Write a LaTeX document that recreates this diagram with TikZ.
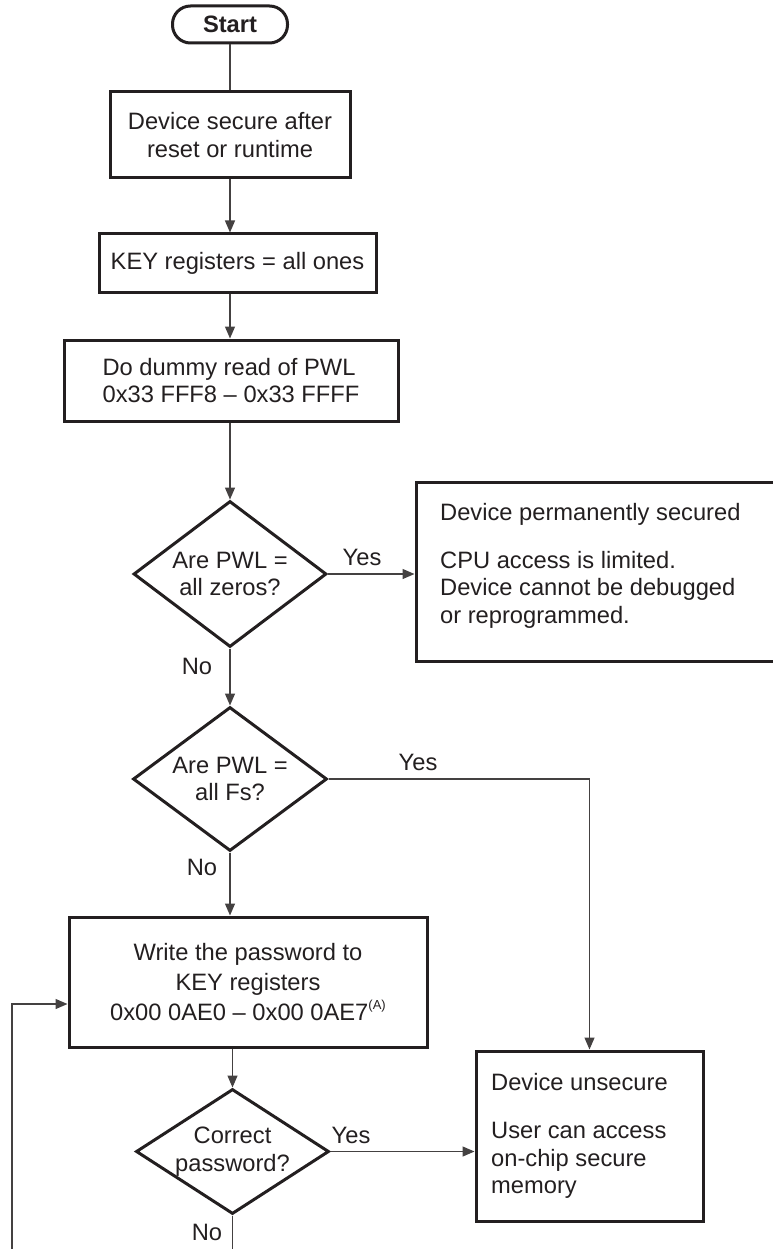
\documentclass[tikz,border=0pt]{standalone}
\usepackage{fontspec}
\setmainfont{Liberation Sans}
\usetikzlibrary{arrows.meta,shapes.geometric,calc}
\definecolor{ink}{HTML}{231F20}
\begin{document}
\begin{tikzpicture}[x=1pt,y=-1pt,
  every node/.style={font=\fontsize{23.7}{27.5}\selectfont, text=ink},
  box/.style={draw=ink, line width=3pt, rectangle, inner sep=0pt},
  dec/.style={draw=ink, line width=3pt, diamond, inner sep=0pt, align=center},
  conn/.style={draw=ink!85, line width=1.3pt},
  arr/.style={conn, -{Triangle[length=12pt,width=10pt]}},
  lab/.style={inner sep=0pt}]
\useasboundingbox (0,0) rectangle (772,1249);

% nodes
\node[box, rounded corners=18pt, minimum width=115pt, minimum height=37pt,
      font=\bfseries\fontsize{23.7}{27.5}\selectfont] (start) at (230,24.5) {Start};
\node[box, minimum width=240pt, minimum height=86pt, align=center] (box1) at (230,135)
  {Device secure after\\reset or runtime};
\node[box, minimum width=277pt, minimum height=58pt] (key) at (237.5,263)
  {KEY registers = all ones};
\node[box, minimum width=334pt, minimum height=81pt, align=left] (dummy) at (231,380.5)
  {Do dummy read of PWL\\0x33 FFF8 -- 0x33 FFFF};
\node[dec, minimum width=193pt, minimum height=146pt, aspect=1.32] (d1) at (230,574)
  {Are PWL =\\all zeros?};
\node[box, minimum width=384pt, minimum height=179pt] (perm) at (608,571.5) {};
\node[lab, anchor=west, align=left] (permtxt) at (440,566)
  {Device permanently secured\\[20pt]CPU access is limited.\\Device cannot be debugged\\or reprogrammed.};
\node[dec, minimum width=194pt, minimum height=144pt, aspect=1.34] (d2) at (230,779)
  {Are PWL =\\all Fs?};
\node[box, minimum width=358pt, minimum height=130pt, align=center] (write) at (248,982)
  {Write the password to\\[2.5pt]KEY registers\\[2.5pt]0x00 0AE0 -- 0x00 0AE7\raisebox{11pt}{\fontsize{13}{13}\selectfont (A)}};
\node[dec, minimum width=193pt, minimum height=125pt, aspect=1.54] (d3) at (232.5,1151.5)
  {Correct\\password?};
\node[box, minimum width=227pt, minimum height=170pt] (unsec) at (589.5,1136) {};
\node[lab, anchor=west, align=left] (unsectxt) at (491,1136)
  {Device unsecure\\[21pt]User can access\\on-chip secure\\memory};

% labels
\node[lab] (y1) at (362,557) {Yes};
\node[lab] (n1) at (197,666) {No};
\node[lab] (y2) at (418,762) {Yes};
\node[lab] (n2) at (202,867) {No};
\node[lab] (y3) at (351,1135) {Yes};
\node[lab] (n3) at (207,1232) {No};

% connectors
\draw[conn] (start.south) -- (box1.north);
\draw[arr] (box1.south) -- (box1.south |- key.north);
\draw[arr] (key.south -| box1.south) -- (box1.south |- dummy.north);
\draw[arr] (dummy.south -| d1.north) -- (d1.north);
\draw[arr] (d1.east) -- (d1.east -| perm.west);
\draw[arr] (d1.south) -- (d2.north);
\draw[arr] (d2.east) -| (unsec.north);
\draw[arr] (d2.south) -- (d2.south |- write.north);
\draw[arr] (write.south -| d3.north) -- (d3.north);
\draw[arr] (d3.east) -- (d3.east -| unsec.west);
\coordinate (nobottom) at (232.5,1249);
\draw[conn] (d3.south) -- (nobottom);
\coordinate (fbstart) at (12,1249);
\coordinate (fbturn) at (12,1004);
\draw[arr] (fbstart) -- (fbturn) -- (fbturn -| write.west);
\end{tikzpicture}
\end{document}
